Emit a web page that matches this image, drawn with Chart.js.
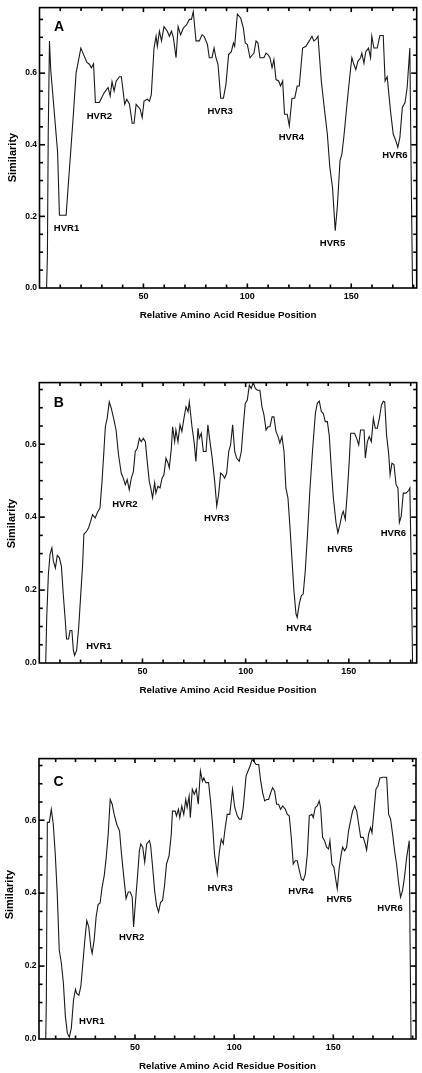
<!DOCTYPE html>
<html>
<head>
<meta charset="utf-8">
<script src="https://cdn.jsdelivr.net/npm/chart.js@4.4.0/dist/chart.umd.min.js"></script>
<style>
    body { margin: 0; background: #fff; width: 422px; height: 1073px; overflow: hidden; position: relative; }
    .panel { position: absolute; left: 0; width: 422px; height: 322px; }
</style>
</head>
<body>
<div class="panel" style="top:0px"><canvas id="chartA"></canvas></div>
<div class="panel" style="top:375px"><canvas id="chartB"></canvas></div>
<div class="panel" style="top:751px"><canvas id="chartC"></canvas></div>
<script>
// residue position, similarity
const traceA = [
    [3.4, 0], [3.8, 0.087], [4.2, 0.43], [4.8, 0.69], [5.4, 0.61], [8.7, 0.38], [9.6, 0.203], [12.8, 0.203],
    [15, 0.38], [16.3, 0.485], [17.6, 0.60], [19.9, 0.67], [22.8, 0.63], [24, 0.625], [25, 0.615], [26, 0.626],
    [26.9, 0.518], [28.8, 0.518], [31.1, 0.545], [33, 0.56], [34, 0.536], [34.9, 0.576], [35.9, 0.55], [36.9, 0.578],
    [38.5, 0.59], [39.4, 0.59], [41, 0.513], [42, 0.527], [43.3, 0.513], [44.6, 0.46], [45.5, 0.46], [46.5, 0.513],
    [48.4, 0.5], [49.4, 0.476], [50.3, 0.522], [51.9, 0.527], [52.9, 0.522], [53.8, 0.54], [55.1, 0.67], [56.1, 0.703],
    [56.7, 0.675], [57.7, 0.717], [58.7, 0.69], [59.9, 0.73], [61.5, 0.717], [62.5, 0.703], [63.5, 0.717], [64.4, 0.70],
    [65.7, 0.643], [66.7, 0.73], [67.9, 0.707], [69.2, 0.726], [70.8, 0.735], [72.1, 0.75], [73.1, 0.75], [74, 0.772],
    [75.3, 0.69], [76.9, 0.69], [78.2, 0.707], [79.2, 0.703], [80.8, 0.68], [81.7, 0.643], [83, 0.643], [84, 0.67],
    [84.9, 0.643], [85.9, 0.624], [87.2, 0.53], [88.5, 0.53], [89.7, 0.568], [91, 0.652], [92.3, 0.66], [93.3, 0.684],
    [93.9, 0.675], [95.2, 0.765], [96.8, 0.754], [98.1, 0.726], [99, 0.684], [100, 0.68], [101.3, 0.643], [102.6, 0.652],
    [103.2, 0.656], [104.2, 0.69], [105.1, 0.684], [106.1, 0.643], [108, 0.643], [109, 0.656], [109.9, 0.652], [110.9, 0.643],
    [111.9, 0.615], [112.8, 0.638], [113.8, 0.582], [115.1, 0.578], [116, 0.564], [117, 0.578], [117.9, 0.485], [119.2, 0.485],
    [120.2, 0.453], [121.5, 0.53], [122.8, 0.53], [124, 0.564], [125, 0.564], [126.6, 0.67], [128.2, 0.675], [129.8, 0.69],
    [131.1, 0.703], [132, 0.69], [133, 0.694], [134, 0.703], [135.6, 0.578], [137.2, 0.494], [138.5, 0.43], [139.7, 0.337],
    [141, 0.28], [142.3, 0.16], [143.3, 0.226], [144.6, 0.356], [145.5, 0.374], [146.5, 0.425], [148.1, 0.522], [149.4, 0.596],
    [150.3, 0.643], [151.3, 0.624], [152.2, 0.61], [153.2, 0.633], [154.5, 0.643], [155.1, 0.656], [156.1, 0.628], [157, 0.66],
    [158.3, 0.67], [159.3, 0.643], [159.9, 0.703], [160.9, 0.67], [162.5, 0.67], [163.8, 0.705], [165.4, 0.705], [166.3, 0.578],
    [167.3, 0.59], [168.9, 0.494], [170.2, 0.43], [171.5, 0.41], [172.4, 0.393], [173.4, 0.42], [174.6, 0.504], [175.9, 0.518],
    [176.9, 0.56], [178.2, 0.67], [178.8, 0.337], [179.5, 0]
];

const traceB = [
    [3.1, 0], [3.6, 0.125], [4.4, 0.244], [5.2, 0.298], [6.1, 0.316], [6.8, 0.28], [7.8, 0.26], [8.7, 0.295],
    [9.7, 0.289], [10.7, 0.266], [11.6, 0.189], [12.6, 0.116], [13.2, 0.066], [14.2, 0.066], [14.9, 0.089], [15.8, 0.089],
    [16.5, 0.035], [17.1, 0.021], [18.1, 0.035], [19.1, 0.098], [20, 0.18], [21, 0.271], [21.6, 0.353], [23, 0.362],
    [23.9, 0.371], [24.9, 0.389], [25.8, 0.407], [27.1, 0.398], [28.1, 0.412], [29.4, 0.425], [30.4, 0.498], [31.3, 0.58],
    [32, 0.648], [32.9, 0.671], [33.9, 0.716], [34.9, 0.698], [36.2, 0.666], [37.2, 0.639], [38.4, 0.571], [39.7, 0.521],
    [40.7, 0.507], [41.7, 0.489], [42.6, 0.503], [43.6, 0.475], [44.6, 0.507], [45.6, 0.525], [46.5, 0.58], [47.5, 0.589],
    [48.5, 0.616], [49.4, 0.607], [50.4, 0.616], [51.4, 0.607], [52.3, 0.553], [53.3, 0.498], [54, 0.48], [54.9, 0.453],
    [55.9, 0.494], [56.5, 0.466], [57.5, 0.485], [58.5, 0.48], [59.5, 0.507], [60.4, 0.516], [61.4, 0.562], [62.4, 0.548],
    [63, 0.535], [64, 0.589], [64.6, 0.648], [65.6, 0.607], [66.2, 0.639], [67.2, 0.607], [68.2, 0.653], [69.1, 0.635],
    [70.1, 0.671], [71.1, 0.703], [72.1, 0.689], [72.7, 0.716], [73.3, 0.685], [74, 0.648], [75, 0.607], [75.9, 0.553],
    [76.9, 0.644], [77.5, 0.616], [78.5, 0.63], [79.5, 0.58], [80.8, 0.58], [81.7, 0.653], [82.7, 0.607], [83.7, 0.566],
    [85, 0.498], [86, 0.43], [86.9, 0.462], [87.9, 0.521], [88.9, 0.516], [89.8, 0.507], [90.8, 0.521], [91.8, 0.58],
    [92.7, 0.598], [93.7, 0.653], [94.7, 0.58], [95.6, 0.562], [96.9, 0.553], [97.9, 0.58], [98.9, 0.653], [99.8, 0.712],
    [100.8, 0.721], [101.8, 0.762], [102.7, 0.753], [103.7, 0.769], [104.7, 0.753], [105.7, 0.748], [106.9, 0.748], [107.9, 0.703],
    [108.9, 0.68], [109.9, 0.639], [110.8, 0.648], [111.8, 0.648], [112.8, 0.675], [113.7, 0.675], [114.7, 0.635], [115.7, 0.621],
    [116.6, 0.603], [117.6, 0.621], [118.6, 0.58], [119.5, 0.48], [120.5, 0.453], [121.5, 0.371], [122.5, 0.28], [123.4, 0.198],
    [124.4, 0.135], [125, 0.125], [126, 0.162], [127, 0.185], [127.9, 0.189], [128.9, 0.253], [129.9, 0.344], [131.2, 0.48],
    [132.5, 0.589], [133.8, 0.685], [134.7, 0.712], [135.7, 0.718], [136.7, 0.689], [137.6, 0.685], [138.6, 0.662], [139.6, 0.662],
    [140.5, 0.625], [141.5, 0.535], [142.5, 0.453], [143.8, 0.385], [144.7, 0.357], [145.7, 0.38], [146.7, 0.407], [147.3, 0.416],
    [148.3, 0.394], [149.3, 0.471], [150.2, 0.553], [150.9, 0.63], [152.8, 0.63], [153.8, 0.616], [154.8, 0.598], [155.7, 0.639],
    [157.4, 0.639], [158, 0.562], [159, 0.607], [159.9, 0.621], [160.9, 0.607], [161.9, 0.671], [162.8, 0.644], [163.8, 0.644],
    [164.8, 0.671], [165.8, 0.707], [166.7, 0.718], [167.4, 0.716], [168.3, 0.625], [169.3, 0.575], [170, 0.516], [170.9, 0.548],
    [171.9, 0.544], [172.9, 0.489], [173.8, 0.48], [174.5, 0.385], [175.4, 0.403], [176.4, 0.466], [177.7, 0.466], [179, 0.473],
    [179.6, 0.48], [180.3, 0.244], [180.9, 0]
];

const traceC = [
    [5, 0], [5.3, 0.107], [5.8, 0.594], [6.8, 0.594], [7.8, 0.63], [8.8, 0.589], [9.8, 0.507], [10.8, 0.398],
    [11.8, 0.244], [12.9, 0.207], [13.9, 0.153], [14.9, 0.062], [15.9, 0.016], [16.9, 0.005], [17.9, 0.03], [19, 0.107],
    [20, 0.136], [20.6, 0.125], [21.7, 0.12], [22.7, 0.144], [23.7, 0.207], [24.7, 0.271], [25.7, 0.325], [26.7, 0.307],
    [27.7, 0.253], [28.4, 0.235], [29.4, 0.271], [30.4, 0.335], [31.4, 0.369], [32.4, 0.373], [33.4, 0.416], [34.5, 0.448],
    [35.5, 0.498], [36.5, 0.562], [37.5, 0.657], [38.5, 0.644], [39.5, 0.616], [40.8, 0.589], [42.2, 0.571], [43.2, 0.507],
    [44.2, 0.453], [45.5, 0.385], [46.6, 0.403], [47.6, 0.403], [48.6, 0.389], [49.3, 0.307], [50.3, 0.38], [51.3, 0.448],
    [52.2, 0.516], [52.9, 0.535], [53.9, 0.526], [54.9, 0.485], [55.9, 0.535], [57.3, 0.544], [57.9, 0.53], [58.9, 0.471],
    [59.9, 0.407], [60.9, 0.366], [61.9, 0.348], [62.9, 0.375], [63.9, 0.38], [64.9, 0.421], [65.9, 0.48], [67.2, 0.503],
    [68.3, 0.562], [68.9, 0.625], [70.3, 0.625], [70.9, 0.612], [71.9, 0.63], [72.6, 0.607], [73.6, 0.639], [74.6, 0.616],
    [75.6, 0.657], [76.3, 0.635], [77.3, 0.666], [77.9, 0.607], [78.9, 0.685], [79.9, 0.671], [80.9, 0.685], [81.9, 0.644],
    [83, 0.735], [84, 0.707], [84.7, 0.716], [85.7, 0.703], [87.1, 0.703], [88.1, 0.653], [89.1, 0.589], [90.1, 0.507],
    [91.5, 0.453], [92.5, 0.512], [93.5, 0.548], [94.5, 0.535], [95.5, 0.58], [96.5, 0.616], [97.8, 0.616], [99.2, 0.685],
    [100.3, 0.635], [101.6, 0.612], [102.6, 0.603], [103.6, 0.603], [104.6, 0.635], [106, 0.721], [107, 0.735], [108, 0.748],
    [109, 0.766], [110, 0.762], [111, 0.753], [112.4, 0.753], [113.4, 0.707], [114.4, 0.675], [115.4, 0.653], [116.4, 0.657],
    [117.4, 0.657], [118.4, 0.675], [119.4, 0.689], [120.4, 0.68], [121.4, 0.644], [122.4, 0.644], [123.4, 0.63], [124.5, 0.639],
    [125.8, 0.63], [126.8, 0.616], [127.8, 0.612], [128.8, 0.553], [129.8, 0.48], [130.8, 0.489], [131.8, 0.489], [132.9, 0.462],
    [133.9, 0.439], [134.9, 0.435], [135.9, 0.453], [136.9, 0.507], [137.9, 0.612], [139.2, 0.616], [139.9, 0.607], [140.9, 0.635],
    [141.9, 0.639], [142.9, 0.653], [143.6, 0.635], [144.6, 0.553], [145.6, 0.544], [146.6, 0.526], [147.6, 0.521], [148.3, 0.544],
    [149.3, 0.48], [150.3, 0.471], [151.3, 0.435], [152, 0.412], [153, 0.471], [154, 0.507], [154.7, 0.526], [155.7, 0.516],
    [156.7, 0.526], [157.7, 0.571], [158.7, 0.598], [159.7, 0.625], [160.8, 0.639], [161.8, 0.625], [162.8, 0.589], [163.8, 0.553],
    [165.1, 0.553], [166.1, 0.535], [166.8, 0.518], [167.8, 0.562], [168.8, 0.58], [169.5, 0.566], [170.5, 0.625], [171.5, 0.685],
    [172.5, 0.694], [173.5, 0.716], [174.9, 0.718], [176.9, 0.718], [177.9, 0.616], [178.9, 0.603], [179.9, 0.562], [180.9, 0.516],
    [181.9, 0.48], [182.9, 0.43], [183.9, 0.389], [184.9, 0.407], [185.9, 0.444], [187, 0.498], [188.3, 0.544], [188.7, 0.271],
    [189.2, 0]
];

const xMajorTicks = [50, 100, 150];
const yMajorTicks = [0, 0.2, 0.4, 0.6];

const hvrNames = ['HVR1', 'HVR2', 'HVR3', 'HVR4', 'HVR5', 'HVR6'];
const hvrXA = [13, 28.8, 86.9, 121.2, 141, 171];
const hvrYA = [0.166, 0.48, 0.494, 0.422, 0.124, 0.37];
const hvrXB = [28.9, 41.5, 85.9, 125.8, 145.7, 171.6];
const hvrYB = [0.045, 0.435, 0.396, 0.096, 0.312, 0.355];
const hvrXC = [28.2, 48.3, 92.9, 133.7, 152.9, 178.6];
const hvrYC = [0.048, 0.278, 0.412, 0.405, 0.383, 0.359];

const FONT = '"Liberation Sans", Arial, sans-serif';

function line(ctx, x1, y1, x2, y2) {
    ctx.beginPath();
    ctx.moveTo(x1, y1);
    ctx.lineTo(x2, y2);
    ctx.stroke();
}

// frame, inward ticks on all four sides, panel letter and HVR labels
const framePlugin = {
    id: 'frame',
    afterDraw(chart, args, opts) {
        const { ctx, chartArea: a, scales: { x, y } } = chart;
        ctx.save();
        ctx.strokeStyle = '#000';
        ctx.lineWidth = 1.6;
        ctx.strokeRect(a.left, a.top, a.right - a.left, a.bottom - a.top);

        for (let v = 10; v < x.max; v += 10) {
            const px = x.getPixelForValue(v);
            const len = v % 50 === 0 ? 4.5 : 3.5;
            line(ctx, px, a.bottom, px, a.bottom - len);
            line(ctx, px, a.top, px, a.top + len);
        }
        for (let i = 1; i * 0.05 < y.max; i++) {
            const py = y.getPixelForValue(i * 0.05);
            const len = i % 4 === 0 ? 5.5 : 3.5;
            line(ctx, a.left, py, a.left + len, py);
            line(ctx, a.right, py, a.right - len, py);
        }

        ctx.fillStyle = '#000';
        ctx.textAlign = 'center';
        ctx.textBaseline = 'middle';

        ctx.font = 'bold 14px ' + FONT;
        ctx.fillText(opts.letter, a.left + 19.5, a.top + opts.letterDy);

        ctx.font = 'bold 9.5px ' + FONT;
        opts.hvrX.forEach((hx, i) => {
            ctx.fillText(hvrNames[i], x.getPixelForValue(hx), y.getPixelForValue(opts.hvrY[i]));
        });

        ctx.font = 'bold 11px ' + FONT;
        ctx.translate(opts.titleX, a.top + opts.titleDy);
        ctx.rotate(-Math.PI / 2);
        ctx.fillText('Similarity', 0, 0);
        ctx.restore();
    }
};

function makePanel(id, trace, cfg) {
    const ctx = document.getElementById(id).getContext('2d');
    return new Chart(ctx, {
        type: 'line',
        data: {
            datasets: [{
                data: trace.map(p => ({ x: p[0], y: p[1] })),
                borderColor: '#1a1a1a',
                borderWidth: 1.1,
                pointRadius: 0,
                tension: 0,
                fill: false
            }]
        },
        options: {
            responsive: true,
            maintainAspectRatio: false,
            animation: false,
            layout: { padding: { left: 0, right: 422 - cfg.right, top: 6, bottom: 0 } },
            plugins: {
                legend: { display: false },
                tooltip: { enabled: false },
                frame: cfg
            },
            scales: {
                x: {
                    type: 'linear',
                    min: cfg.xMin,
                    max: cfg.xMax,
                    afterBuildTicks: s => { s.ticks = xMajorTicks.map(v => ({ value: v })); },
                    afterFit: s => { s.height = 34; },
                    grid: { display: false, drawTicks: false },
                    border: { display: false },
                    ticks: {
                        padding: 3,
                        maxRotation: 0,
                        autoSkip: false,
                        color: '#000',
                        font: { family: FONT, size: 9, weight: 'bold' },
                        callback: v => String(v)
                    },
                    title: {
                        display: true,
                        text: 'Relative Amino Acid Residue Position',
                        color: '#000',
                        padding: { top: 0, bottom: 1.2 },
                        font: { family: FONT, size: 9.8, weight: 'bold' }
                    }
                },
                y: {
                    min: 0,
                    max: cfg.yMax,
                    afterBuildTicks: s => { s.ticks = yMajorTicks.map(v => ({ value: v })); },
                    afterFit: s => { s.width = cfg.left; },
                    grid: { display: false, drawTicks: false },
                    border: { display: false },
                    ticks: {
                        padding: 2.5,
                        color: '#000',
                        font: { family: FONT, size: 8.5, weight: 'bold' },
                        callback: v => v.toFixed(1)
                    }
                }
            }
        },
        plugins: [framePlugin]
    });
}

makePanel('chartA', traceA, {
    left: 39.5, right: 416.7, xMin: 0, xMax: 181.5, yMax: 0.783,
    letter: 'A', letterDy: 19.5, titleX: 13.3, titleDy: 150,
    hvrX: hvrXA, hvrY: hvrYA
});
makePanel('chartB', traceB, {
    left: 39.3, right: 416.7, xMin: 0, xMax: 182.9, yMax: 0.769,
    letter: 'B', letterDy: 21, titleX: 12.2, titleDy: 141,
    hvrX: hvrXB, hvrY: hvrYB
});
makePanel('chartC', traceC, {
    left: 39, right: 416, xMin: 1.6, xMax: 191.7, yMax: 0.769,
    letter: 'C', letterDy: 24, titleX: 9.5, titleDy: 136,
    hvrX: hvrXC, hvrY: hvrYC
});
</script>
</body>
</html>
